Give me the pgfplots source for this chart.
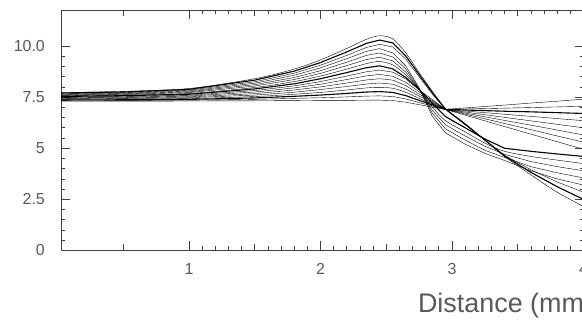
\documentclass[border=0pt]{standalone}
\usepackage{fontspec}
\setmainfont{Liberation Sans}
\usepackage{graphicx}
\usepackage{pgfplots}
\usepackage{pgfplotstable}
\pgfplotsset{compat=1.18}
\pgfplotstableread{
x    c0   c1    c2   c3   c4   c5   c6   c7   c8   c9   c10  c11  c12  c13   c14   c15
0    7.30 7.33  7.36 7.39 7.42 7.45 7.47 7.50 7.53 7.56 7.58 7.61 7.64 7.67  7.70  7.72
0.5  7.30 7.34  7.37 7.41 7.44 7.47 7.50 7.53 7.57 7.60 7.63 7.66 7.69 7.72  7.75  7.78
1.0  7.31 7.35  7.39 7.43 7.47 7.51 7.55 7.59 7.64 7.68 7.72 7.76 7.80 7.84  7.88  7.92
1.5  7.32 7.39  7.46 7.53 7.60 7.67 7.75 7.82 7.90 7.97 8.04 8.11 8.18 8.25  8.33  8.40
1.8  7.33 7.44  7.54 7.64 7.74 7.85 7.95 8.05 8.15 8.26 8.36 8.46 8.57 8.67  8.77  8.87
2.0  7.34 7.47  7.60 7.73 7.87 8.00 8.13 8.26 8.40 8.53 8.66 8.79 8.93 9.06  9.19  9.32
2.2  7.34 7.51  7.68 7.85 8.02 8.19 8.36 8.53 8.70 8.87 9.04 9.21 9.38 9.54  9.71  9.88
2.35 7.35 7.55  7.75 7.95 8.14 8.34 8.54 8.74 8.94 9.14 9.34 9.54 9.74 9.93  10.13 10.33
2.45 7.35 7.56  7.77 7.98 8.19 8.40 8.61 8.82 9.03 9.24 9.45 9.66 9.87 10.08 10.29 10.50
2.55 7.33 7.53  7.73 7.93 8.13 8.33 8.52 8.72 8.88 9.07 9.27 9.46 9.66 9.95  10.15 10.35
2.65 7.25 7.41  7.57 7.73 7.89 8.06 8.22 8.38 8.45 8.58 8.72 8.87 9.01 9.35  9.50  9.65
2.75 7.13 7.23  7.34 7.44 7.55 7.65 7.76 7.86 7.88 7.88 7.91 7.92 7.96 8.50  8.60  8.70
2.85 7.01 7.07  7.12 7.17 7.22 7.28 7.33 7.38 7.20 7.02 6.86 6.71 6.56 7.65  7.72  7.80
2.95 6.90 6.90  6.90 6.90 6.90 6.90 6.90 6.90 6.55 6.35 6.15 5.95 5.75 6.90  6.92  6.95
3.1  6.97 6.92  6.87 6.82 6.77 6.72 6.67 6.62 6.00 5.80 5.60 5.40 5.20 6.15  6.18  6.20
3.25 7.04 6.94  6.84 6.74 6.64 6.54 6.44 6.34 5.45 5.25 5.10 4.90 4.75 5.40  5.40  5.40
3.4  7.11 6.96  6.81 6.66 6.51 6.36 6.21 6.06 5.00 4.85 4.70 4.55 4.40 4.65  4.62  4.60
3.6  7.21 6.99  6.78 6.56 6.34 6.13 5.91 5.69 4.85 4.60 4.35 4.10 3.90 3.95  3.82  3.70
3.8  7.30 7.02  6.74 6.45 6.17 5.89 5.60 5.32 4.72 4.42 4.10 3.80 3.50 3.35  3.12  2.85
4.0  7.40 7.05  6.70 6.35 6.00 5.65 5.30 4.95 4.60 4.25 3.90 3.55 3.20 2.85  2.50  2.15
}\curves
\begin{document}
\begin{tikzpicture}
\begin{axis}[
  at={(61bp,71.5bp)}, anchor=south west,
  scale only axis, width=522.5bp, height=240.5bp,
  xmin=0.027, xmax=4.0, ymin=0, ymax=11.76,
  axis line style={black!75, line width=0.7bp},
  tick style={black!75, line width=0.7bp},
  tick align=inside,
  major tick length=9bp, minor tick length=4bp,
  xtick={1,2,3,4}, xticklabels={1,2,3,4},
  minor x tick num=9,
  extra x ticks={0.5,1.5,2.5,3.5}, extra x tick labels={},
  extra x tick style={major tick length=6bp},
  ytick={0,2.5,5,7.5,10}, yticklabels={0,2.5,5,7.5,10.0},
  minor y tick num=4,
  ticklabel style={font=\fontsize{16}{18}\selectfont, text=black!65},
  yticklabel style={anchor=east, inner sep=0pt, xshift=-16bp},
  xticklabel style={anchor=north, inner sep=0pt, yshift=-12.5bp},
  xlabel={Distance (mm)},
  xlabel style={at={(rel axis cs:0.683,0)}, anchor=base west, inner sep=0pt,
    yshift=-61.5bp, font=\fontsize{27}{30}\selectfont, text=black!65},
  cycle list={{black, solid, line width=1.1bp, smooth, tension=0.4, mark=none}},
]
\foreach \k in {0,...,15} {
  \addplot table[x=x, y=c\k] {\curves};
}
\end{axis}
\pgfresetboundingbox
\useasboundingbox (0,0) rectangle (582bp,322bp);
\end{tikzpicture}
\end{document}
